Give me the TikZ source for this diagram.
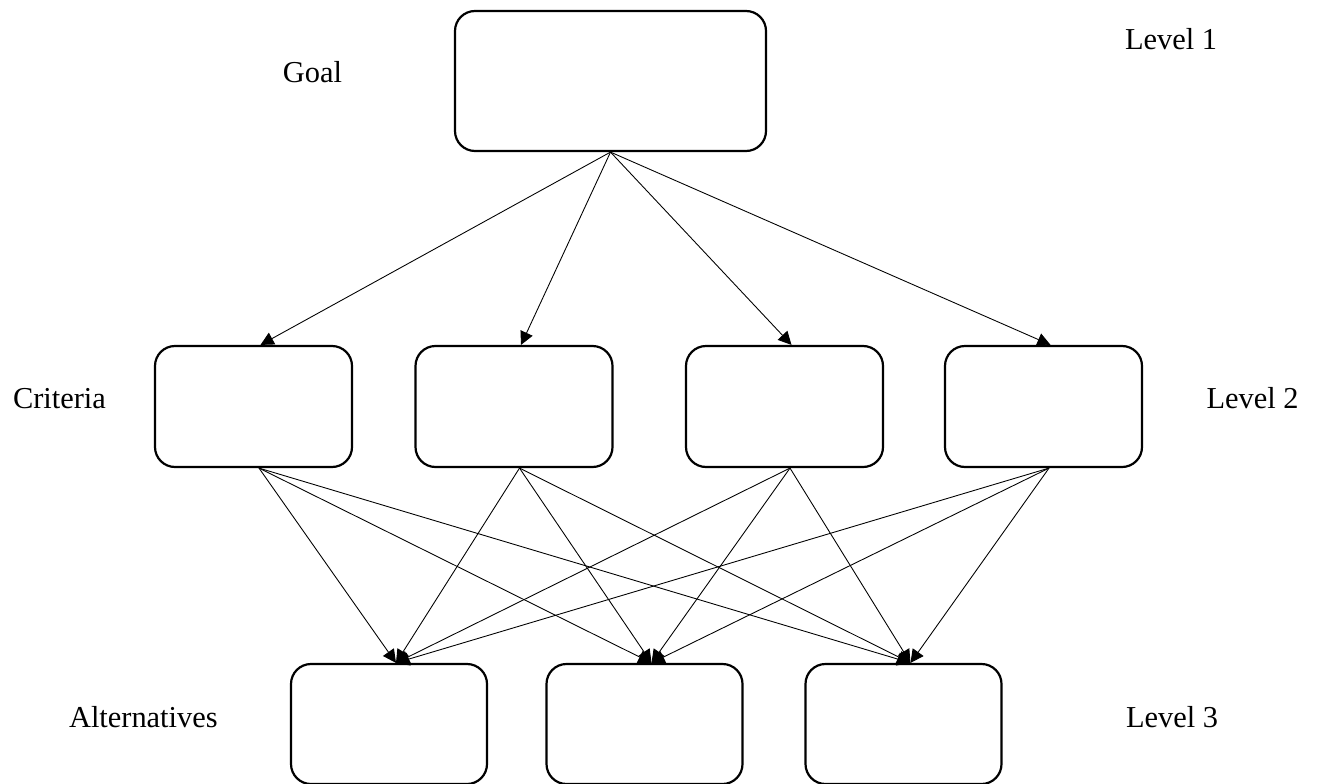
\documentclass[tikz,border=0pt]{standalone}
\usepackage{fontspec}
\setmainfont{Liberation Serif}
\usepackage{tikz}
\usetikzlibrary{arrows.meta, calc}

\begin{document}
\begin{tikzpicture}[>={Triangle[length=7.5pt,width=7.5pt]},
    levelbox/.style={draw, line width=1.25pt, rounded corners=0.4cm,
        minimum width=3.94cm, minimum height=2.42cm},
    leveltext/.style={font=\fontsize{17.3}{20}\selectfont, inner sep=0pt},
    link/.style={->, line width=0.5pt}]
    \useasboundingbox (0,0) rectangle (26.36,-15.68);

    % Level 1: goal
    \node[levelbox, minimum width=6.22cm, minimum height=2.8cm] (goal) at (12.21,-1.62) {};

    % Level 2: criteria
    \node[levelbox] (c1) at (5.07,-8.13) {};
    \node[levelbox] (c2) at (10.28,-8.13) {};
    \node[levelbox] (c3) at (15.69,-8.13) {};
    \node[levelbox] (c4) at (20.87,-8.13) {};

    % Level 3: alternatives
    \node[levelbox, minimum width=3.92cm, minimum height=2.4cm] (a1) at (7.78,-14.48) {};
    \node[levelbox, minimum width=3.92cm, minimum height=2.4cm] (a2) at (12.89,-14.48) {};
    \node[levelbox, minimum width=3.92cm, minimum height=2.4cm] (a3) at (18.07,-14.48) {};

    % Texte
    \node[leveltext, anchor=base] (goaltext) at (6.25,-1.66) {Goal};
    \node[leveltext, anchor=base] (lvlone) at (23.42,-1.0) {Level 1};
    \node[leveltext, anchor=base west] (crittext) at (0.254,-8.16) {Criteria};
    \node[leveltext, anchor=base] (lvltwo) at (25.05,-8.16) {Level 2};
    \node[leveltext, anchor=base east] (alttext) at (4.36,-14.54) {Alternatives};
    \node[leveltext, anchor=base] (lvlthree) at (23.44,-14.54) {Level 3};

    % Pfeile
    \foreach \c in {c1,c2,c3,c4}
        \draw[link] (goal.south) -- ([xshift=1.4mm]\c.north);
    \foreach \c in {c1,c2,c3,c4}
        \foreach \a in {a1,a2,a3}
            \draw[link] ([xshift=1.1mm]\c.south) -- ([xshift=1.4mm]\a.north);
\end{tikzpicture}
\end{document}
